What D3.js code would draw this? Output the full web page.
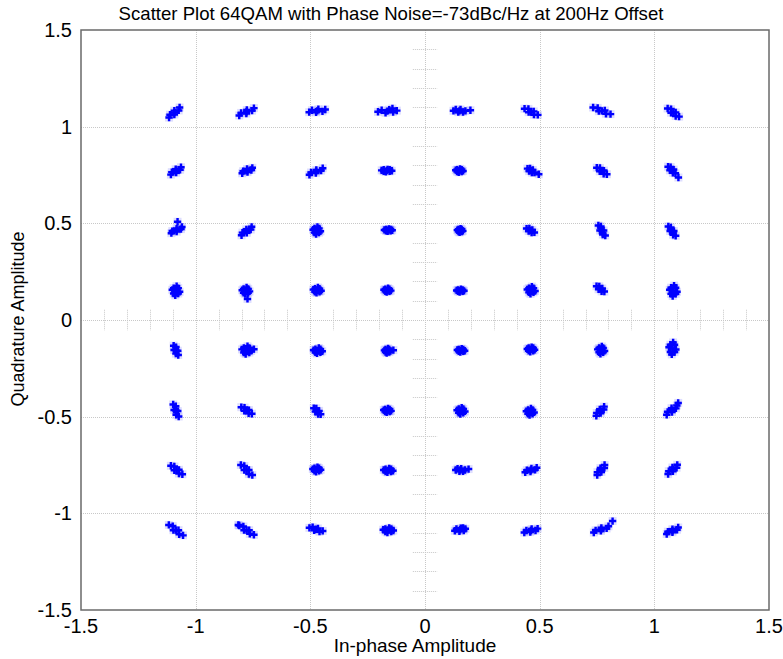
<!DOCTYPE html>
<html><head><meta charset="utf-8">
<script src="https://cdn.jsdelivr.net/npm/d3@7"></script>
<style>html,body{margin:0;padding:0;background:#fff}svg{display:block}</style>
</head><body><svg id="c" width="783" height="659"></svg>
<script>
const titleText = "Scatter Plot 64QAM with Phase Noise=-73dBc/Hz at 200Hz Offset";
const xLabel = "In-phase Amplitude";
const yLabel = "Quadrature Amplitude";
const xTicks = [-1.5, -1, -0.5, 0, 0.5, 1, 1.5];
const yTicks = [-1.5, -1, -0.5, 0, 0.5, 1, 1.5];
const gridVals = [-1, -0.5, 0.5, 1];
const minorTicks = [-1.4,-1.3,-1.2,-1.1,-0.9,-0.8,-0.7,-0.6,-0.4,-0.3,-0.2,-0.1,0.1,0.2,0.3,0.4,0.6,0.7,0.8,0.9,1.1,1.2,1.3,1.4];
// ideal constellation levels
const iLevels = [-1.08, -0.771, -0.463, -0.154, 0.154, 0.463, 0.771, 1.08];
const qLevels = [1.08, 0.771, 0.463, 0.154, -0.154, -0.463, -0.771, -1.08];
// received symbol offsets from the ideal point, in hundredths, per cluster.
// Listed quadrant by quadrant (upper-left, upper-right, lower-left, lower-right);
// inside each quadrant: 4 rows top to bottom, 4 columns left to right.
const clusterOffsets = [
[[-3.6,-3.3],[-3.2,-1.8],[-1.3,-1.7],[-1.3,-0.7],[-1.3,0.3],[0.6,0.4],[1.0,1.9]],
[[-3.9,-2.2],[-3.1,-0.9],[-0.8,-1.2],[-0.7,-0.3],[-0.6,0.6],[1.7,0.3],[2.5,1.6]],
[[-4.2,-0.5],[-3.0,0.5],[-1.2,-0.6],[-0.7,0.2],[-0.2,1.0],[1.6,-0.1],[2.8,0.9]],
[[-5.1,-0.3],[-3.5,0.5],[-1.8,-0.8],[-1,0],[-0.2,0.8],[1.5,-0.5],[3.1,0.3],[1.2,1.4]],
[[-2.8,-1.9],[-2.4,-0.6],[-0.5,-0.9],[-0.6,0],[-0.7,0.9],[1.2,0.6],[1.6,1.9]],
[[-2.6,-1.2],[-2.2,-0.1],[-0.3,-0.6],[-0.4,0.2],[-0.5,1.0],[1.4,0.5],[1.8,1.6]],
[[-4.1,-2.0],[-3.4,-0.8],[-1.3,-1.1],[-1.2,-0.3],[-1.1,0.5],[1.0,0.2],[1.7,1.4]],
[[-1.3,0.2],[-3.5,0.3],[0.9,0.1],[-0.9,0.8],[-1.7,-0.4],[0.0,0.6],[-2.6,-0.2],[0.0,-0.2],[-2.6,0.6]],
[[-2.6,-1.4],[-2.2,-0.3],[-0.3,-0.6],[-0.3,0.2],[-0.3,1.0],[1.6,0.7],[2.0,1.8],[0.1,4.5]],
[[-2.9,-2.5],[-2.5,-1.1],[-0.6,-1.2],[-0.7,-0.3],[-0.8,0.6],[1.1,0.5],[1.5,1.9]],
[[-0.9,0],[-2.5,0.4],[0.7,-0.4],[-0.6,1.9],[-1.2,-1.9],[0.1,1.1],[-1.9,-1.1],[0.1,-1.1],[-1.9,1.1]],
[[-0.6,0.2],[-2.3,0.3],[1.1,0.1],[-0.3,0.8],[-0.9,-0.4],[0.4,0.6],[-1.6,-0.2],[0.4,-0.2],[-1.6,0.6]],
[[-0.6,-0.3],[-2.2,0.2],[1.0,-0.8],[-0.3,2.1],[-0.9,-2.7],[0.4,1.1],[-1.6,-1.7],[0.4,-1.7],[-1.6,1.1]],
[[-1,-0.3],[-2.6,0.0],[0.6,-0.6],[-0.7,1.4],[-1.3,-2.0],[0.0,0.7],[-2.0,-1.3],[0.0,-1.3],[-2.0,0.7],[-0.3,-4.5]],
[[-0.7,0],[-2.4,0.3],[1.0,-0.3],[-0.4,1.4],[-1.0,-1.4],[0.3,0.8],[-1.7,-0.8],[0.3,-0.8],[-1.7,0.8]],
[[-1,0],[-2.5,0.2],[0.5,-0.2],[-0.7,1],[-1.3,-1],[-0.1,0.6],[-1.9,-0.6],[-0.1,-0.6],[-1.9,0.6]],
[[-3.0,0.2],[-2.0,0.9],[-0.9,-0.5],[-0.4,0.2],[0.1,0.9],[1.2,-0.5],[2.2,0.2],[4.4,0.5]],
[[-2.9,1.3],[-1.2,1.2],[-1.1,-0.5],[0,-0.3],[1.1,-0.1],[1.2,-1.8],[2.9,-1.9]],
[[-3.8,1.9],[-1.8,1.7],[-1.3,0.0],[0,0.2],[1.3,0.4],[1.8,-1.3],[3.8,-1.5]],
[[-2.2,1.4],[-0.7,1.1],[-0.7,-0.8],[0.3,-0.7],[1.3,-0.6],[1.3,-2.5],[2.8,-2.8]],
[[-0.4,0.2],[-2.0,0.4],[1.2,0.0],[-0.1,1.1],[-0.7,-0.7],[0.6,0.7],[-1.4,-0.3],[0.6,-0.3],[-1.4,0.7]],
[[-1.6,1.2],[-0.5,1.3],[-0.9,-0.1],[-0.1,0.2],[0.7,0.5],[0.3,-0.9],[1.4,-0.8],[3.3,-1.7]],
[[-2.2,1.7],[-0.8,1.5],[-0.9,-0.2],[0,0],[0.9,0.2],[0.8,-1.5],[2.2,-1.7]],
[[-2.0,2.2],[-0.9,2.0],[-1.2,0.3],[-0.4,0.5],[0.4,0.7],[0.1,-1.0],[1.2,-1.2],[2.5,-3.4]],
[[-0.1,0],[-1.3,0.2],[1.1,-0.2],[0.1,1],[-0.3,-1],[0.6,0.6],[-0.8,-0.6],[0.6,-0.6],[-0.8,0.6]],
[[-2.0,1.0],[-0.8,1.1],[-1.1,-0.3],[-0.3,0],[0.5,0.3],[0.2,-1.1],[1.4,-1.0]],
[[-1.5,2.6],[-0.4,2.1],[-0.8,0.0],[0,0],[0.8,0.0],[0.4,-2.1],[1.5,-2.6]],
[[-1.9,2.1],[-0.8,1.6],[-1.1,-0.3],[-0.3,-0.3],[0.5,-0.3],[0.2,-2.2],[1.3,-2.7]],
[[0,-0.2],[-1.6,-0.1],[1.6,-0.3],[0.3,0.5],[-0.3,-0.9],[1.0,0.2],[-1.0,-0.6],[1.0,-0.6],[-1.0,0.2]],
[[0,0],[-1.7,0.4],[1.7,-0.4],[0.3,1.9],[-0.3,-1.9],[1.0,1.1],[-1.0,-1.1],[1.0,-1.1],[-1.0,1.1]],
[[-2.3,2.1],[-1.1,2.0],[-1.4,0.5],[-0.6,0.7],[0.2,0.9],[-0.1,-0.6],[1.1,-0.7]],
[[0.3,-0.3],[-1.3,0.2],[1.9,-0.8],[0.6,2.4],[0.0,-3.0],[1.3,1.3],[-0.7,-1.9],[1.3,-1.9],[-0.7,1.3]],
[[-1.6,2.1],[-0.6,1.4],[-1.4,-0.1],[-0.6,-0.3],[0.2,-0.5],[-0.6,-2.0],[0.4,-2.7]],
[[-0.7,-0.2],[-2.7,0.2],[1.3,-0.6],[-0.3,1.8],[-1.1,-2.2],[0.5,1.0],[-1.9,-1.4],[0.5,-1.4],[-1.9,1.0],[2.5,0.3]],
[[-0.4,-0.5],[-2.3,-0.2],[1.5,-0.8],[0.0,0.9],[-0.8,-1.9],[0.7,0.3],[-1.5,-1.3],[0.7,-1.3],[-1.5,0.3]],
[[-1,-0.5],[-2.3,-0.3],[0.3,-0.7],[-0.7,0.7],[-1.3,-1.7],[-0.2,0.2],[-1.8,-1.2],[-0.2,-1.2],[-1.8,0.2],[1.6,-0.2]],
[[-1.8,2.6],[-0.7,1.7],[-1.4,-0.2],[-0.6,-0.5],[0.2,-0.8],[-0.5,-2.7],[0.6,-3.6]],
[[-3.0,1.2],[-1.6,1.0],[-1.7,-0.7],[-0.7,-0.5],[0.3,-0.3],[0.2,-2.0],[1.6,-2.2]],
[[-2.2,0.7],[-1.1,0.6],[-1.5,-1.1],[-0.7,-0.9],[0.1,-0.7],[-0.3,-2.4],[0.8,-2.5]],
[[-1,-0.5],[-2.6,-0.3],[0.6,-0.7],[-0.7,0.5],[-1.3,-1.5],[0.0,0.1],[-2.0,-1.1],[0.0,-1.1],[-2.0,0.1]],
[[-2.8,1.7],[-1.3,1.3],[-1.3,-0.6],[-0.3,-0.5],[0.7,-0.4],[0.7,-2.3],[2.2,-2.7]],
[[-3.2,2.1],[-1.7,1.6],[-1.7,-0.5],[-0.7,-0.5],[0.3,-0.5],[0.3,-2.6],[1.8,-3.1]],
[[-0.9,-0.2],[-2.6,0.0],[0.8,-0.4],[-0.6,1.0],[-1.2,-1.4],[0.1,0.5],[-1.9,-0.9],[0.1,-0.9],[-1.9,0.5]],
[[-0.6,-0.7],[-2.6,-0.5],[1.4,-0.9],[-0.2,0.3],[-1.0,-1.7],[0.6,-0.1],[-1.8,-1.3],[0.6,-1.3],[-1.8,-0.1]],
[[-3.7,2.0],[-2.0,1.4],[-1.7,-0.7],[-0.6,-0.7],[0.5,-0.7],[0.8,-2.8],[2.5,-3.4]],
[[-3.9,1.7],[-2.1,1.2],[-1.8,-0.7],[-0.7,-0.7],[0.4,-0.7],[0.7,-2.6],[2.5,-3.1],[-4.3,2.0]],
[[-4.1,0.5],[-2.7,0.9],[-2.0,-0.8],[-1.2,-0.3],[-0.4,0.2],[0.3,-1.5],[1.7,-1.1]],
[[-0.6,-0.7],[-2.8,-0.5],[1.6,-0.9],[-0.2,0.5],[-1.0,-1.9],[0.7,0.0],[-1.9,-1.4],[0.7,-1.4],[-1.9,0.0]],
[[0.3,-0.3],[-1.3,-0.1],[1.9,-0.5],[0.6,0.6],[0.0,-1.2],[1.3,0.2],[-0.7,-0.8],[1.3,-0.8],[-0.7,0.2]],
[[-0.1,0.2],[-1.7,0.4],[1.5,0.0],[0.2,1.4],[-0.4,-1.0],[0.9,0.9],[-1.1,-0.5],[0.9,-0.5],[-1.1,0.9]],
[[-0.3,-0.2],[-1.8,0.2],[1.2,-0.6],[0.0,1.7],[-0.6,-2.1],[0.6,0.9],[-1.2,-1.3],[0.6,-1.3],[-1.2,0.9]],
[[-0.1,0.7],[-1.6,1.3],[1.4,0.1],[0.2,3.8],[-0.4,-2.4],[0.8,2.6],[-1.0,-1.2],[0.8,-1.2],[-1.0,2.6]],
[[0.3,-0.7],[-1.4,-0.4],[2.0,-1.0],[0.6,0.9],[0.0,-2.3],[1.3,0.3],[-0.7,-1.7],[1.3,-1.7],[-0.7,0.3]],
[[-0.4,-1.2],[-2.1,-0.9],[1.3,-1.5],[-0.1,0.5],[-0.7,-2.9],[0.6,-0.2],[-1.4,-2.2],[0.6,-2.2],[-1.4,-0.2]],
[[-2.4,-3.3],[-2.2,-1.8],[-0.5,-1.9],[-0.7,-0.9],[-0.9,0.1],[0.8,0.0],[1.0,1.5]],
[[-2.6,-2.7],[-2.2,-1.2],[-0.3,-1.3],[-0.4,-0.3],[-0.5,0.7],[1.4,0.6],[1.8,2.1],[2.4,3.4]],
[[-2.0,-0.5],[-1.2,0.2],[-0.4,-1.2],[0,-0.5],[0.4,0.2],[1.2,-1.2],[2.0,-0.5],[3.6,0.0]],
[[-2.6,-1.7],[-1.9,-0.6],[-0.3,-1.3],[-0.1,-0.5],[0.1,0.3],[1.7,-0.4],[2.4,0.7]],
[[-2.0,-3.1],[-1.9,-1.6],[-0.2,-1.5],[-0.4,-0.5],[-0.6,0.5],[1.1,0.6],[1.2,2.1]],
[[-2.0,-2.6],[-1.7,-1.1],[0.1,-1.2],[0,-0.2],[-0.1,0.8],[1.7,0.7],[2.0,2.2]],
[[-2.4,-1.0],[-1.7,-0.1],[-0.4,-1.3],[-0.1,-0.5],[0.2,0.3],[1.5,-0.9],[2.2,0.0],[1.2,0.5]],
[[-3.0,-1.9],[-2.1,-0.9],[-0.4,-1.7],[-0.1,-0.9],[0.2,-0.1],[1.9,-0.9],[2.8,0.1]],
[[-3.5,-1.9],[-2.7,-0.8],[-0.4,-1.1],[-0.3,-0.3],[-0.2,0.5],[2.1,0.2],[2.9,1.3],[4.7,4.0]],
[[-2.6,-2.7],[-2.1,-1.5],[-0.1,-1.8],[-0.1,-1.0],[-0.1,-0.2],[1.9,-0.5],[2.4,0.7]]
];

const points = [];
clusterOffsets.forEach((pts, k) => {
  const quad = Math.floor(k / 16), w = k % 16;
  const row = Math.floor(w / 4) + (quad >= 2 ? 4 : 0);
  const col = (w % 4) + (quad % 2 === 1 ? 4 : 0);
  pts.forEach(([dx, dy]) => points.push({ i: iLevels[col] + dx / 100, q: qLevels[row] + dy / 100 }));
});

const W = 783, H = 659;
const m = { left: 81, right: 14, top: 30, bottom: 49 };
const svg = d3.select("#c");
const x = d3.scaleLinear().domain([-1.5, 1.5]).range([m.left, W - m.right]);
const y = d3.scaleLinear().domain([-1.5, 1.5]).range([H - m.bottom, m.top]);
const font = "'Liberation Sans', Arial, sans-serif";
const gridColor = "#c8c8c8";

// grid
const g = svg.append("g");
g.selectAll(".vg").data(gridVals).join("line")
  .attr("x1", d => Math.round(x(d)) + 0.5).attr("x2", d => Math.round(x(d)) + 0.5)
  .attr("y1", y(1.5)).attr("y2", y(-1.5))
  .attr("stroke", gridColor).attr("stroke-dasharray", "1,1");
g.selectAll(".hg").data(gridVals).join("line")
  .attr("y1", d => Math.round(y(d)) + 0.5).attr("y2", d => Math.round(y(d)) + 0.5)
  .attr("x1", x(-1.5)).attr("x2", x(1.5))
  .attr("stroke", gridColor).attr("stroke-dasharray", "1,1");
// center crosshair
g.append("line").attr("x1", Math.round(x(0)) + 0.5).attr("x2", Math.round(x(0)) + 0.5)
  .attr("y1", y(1.5)).attr("y2", y(-1.5)).attr("stroke", gridColor).attr("stroke-dasharray", "1,1");
g.append("line").attr("y1", Math.round(y(0)) + 0.5).attr("y2", Math.round(y(0)) + 0.5)
  .attr("x1", x(-1.5)).attr("x2", x(1.5)).attr("stroke", gridColor).attr("stroke-dasharray", "1,1");
const tl = 0.053;
g.selectAll(".mx").data(minorTicks).join("line")
  .attr("x1", d => Math.round(x(d)) + 0.5).attr("x2", d => Math.round(x(d)) + 0.5)
  .attr("y1", y(tl)).attr("y2", y(-tl))
  .attr("stroke", gridColor).attr("stroke-dasharray", "1,1");
g.selectAll(".my").data(minorTicks).join("line")
  .attr("y1", d => Math.round(y(d)) + 0.5).attr("y2", d => Math.round(y(d)) + 0.5)
  .attr("x1", x(-tl)).attr("x2", x(tl))
  .attr("stroke", gridColor).attr("stroke-dasharray", "1,1");

// points
const pg = svg.append("g");
pg.selectAll(".h").data(points).join("path")
  .attr("d", d3.symbol(d3.symbolSquare, 64)())
  .attr("transform", d => `translate(${x(d.i)},${y(d.q)})`)
  .attr("fill", "#8a8aff").attr("opacity", 0.28);
pg.selectAll(".p").data(points).join("path")
  .attr("d", d3.symbol(d3.symbolCross, 30)())
  .attr("transform", d => `translate(${x(d.i)},${y(d.q)})`)
  .attr("fill", "#0000ff");

// frame
svg.append("rect").attr("x", x(-1.5)).attr("y", y(1.5))
  .attr("width", x(1.5) - x(-1.5)).attr("height", y(-1.5) - y(1.5))
  .attr("fill", "none").attr("stroke", "#6a6a6a").attr("stroke-width", 1.5);

// tick labels
svg.selectAll(".xt").data(xTicks).join("text")
  .attr("x", d => x(d)).attr("y", 633)
  .attr("text-anchor", "middle").attr("font-family", font).attr("font-size", 20)
  .text(d => String(d));
svg.selectAll(".yt").data(yTicks).join("text")
  .attr("x", 72).attr("y", d => y(d) + 7)
  .attr("text-anchor", "end").attr("font-family", font).attr("font-size", 20)
  .text(d => String(d));

// titles
svg.append("text").attr("x", 391).attr("y", 20).attr("text-anchor", "middle")
  .attr("font-family", font).attr("font-size", 18.6).text(titleText);
svg.append("text").attr("x", 415).attr("y", 652).attr("text-anchor", "middle")
  .attr("font-family", font).attr("font-size", 19).text(xLabel);
svg.append("text").attr("transform", "translate(24,319) rotate(-90)").attr("text-anchor", "middle")
  .attr("font-family", font).attr("font-size", 18).text(yLabel);
</script></body></html>
